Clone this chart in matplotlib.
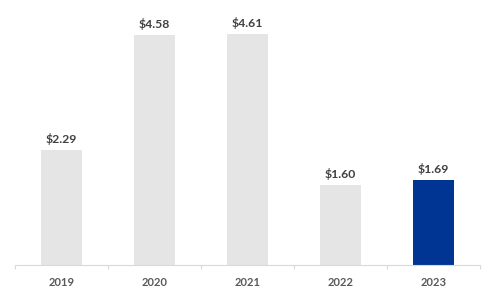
import matplotlib
matplotlib.use('Agg')
import matplotlib.pyplot as plt

years  = ['2019', '2020', '2021', '2022', '2023']
values = [2.29, 4.58, 4.61, 1.60, 1.69]
labels = ['$2.29', '$4.58', '$4.61', '$1.60', '$1.69']

plt.rcParams['font.family'] = ['Lato', 'DejaVu Sans']

fig = plt.figure(figsize=(4.94, 2.97), dpi=100)
ax = fig.add_axes([15/494, 32/297, 465/494, 261/297])

colors = ['#e5e5e5'] * 4 + ['#003594']
x = range(len(years))
ax.bar(x, values, width=0.45, color=colors)

for i, (v, t) in enumerate(zip(values, labels)):
    ax.annotate(t, (i, v), xytext=(0, 3.5), textcoords='offset points',
                ha='center', va='bottom', fontsize=8.8, fontweight='bold',
                color='#404040')

ax.set_xlim(-0.5, len(years) - 0.5)
ax.set_ylim(0, 5.2)
ax.set_yticks([])
ax.set_xticks(list(x))
ax.set_xticklabels(years, fontsize=8, fontweight='bold', color='#595959')
ax.set_xticks([i - 0.5 for i in range(len(years) + 1)], minor=True)
ax.tick_params(axis='x', which='major', length=0, pad=8.5)
ax.tick_params(axis='x', which='minor', length=3, color='#d9d9d9', width=0.8)
for s in ['top', 'right', 'left']:
    ax.spines[s].set_visible(False)
ax.spines['bottom'].set_color('#d9d9d9')
ax.spines['bottom'].set_linewidth(0.8)

fig.savefig('out.png', dpi=100)
